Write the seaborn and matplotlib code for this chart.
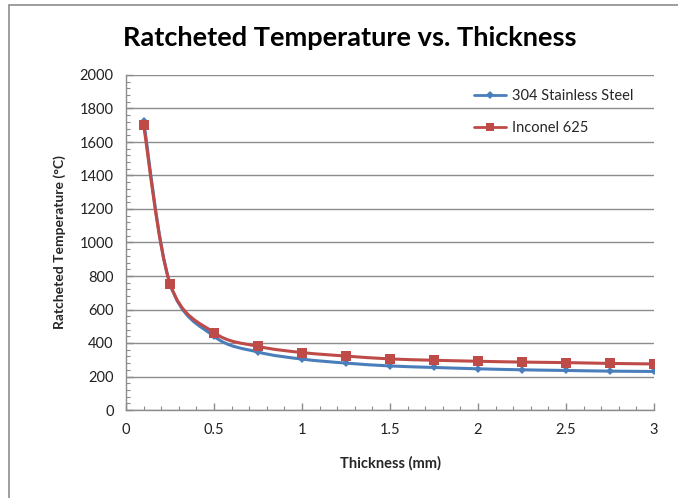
import matplotlib
matplotlib.use("Agg")
import matplotlib.pyplot as plt
import numpy as np
import pandas as pd
import seaborn as sns
from matplotlib.path import Path
from matplotlib.patches import PathPatch, Rectangle
from matplotlib.ticker import MultipleLocator

# values
thickness = [0.1, 0.25, 0.5, 0.75, 1.0, 1.25, 1.5, 1.75, 2.0, 2.25, 2.5, 2.75, 3.0]
steel_304 = [1725, 755, 440, 346, 304, 280, 263, 254, 246, 240, 236, 232, 230]
inconel_625 = [1700, 755, 462, 380, 343, 322, 305, 297, 291, 286, 283, 278, 275]
series_names = ["304 Stainless Steel", "Inconel 625"]

blue = "#4A7EBB"
red = "#BE4B48"

df = pd.DataFrame(
    {
        "Thickness": thickness * 2,
        "Temp": steel_304 + inconel_625,
        "Material": [series_names[0]] * len(thickness) + [series_names[1]] * len(thickness),
    }
)


def smooth_path(x, y):
    """Excel-style smoothed line as cubic Bezier segments (Catmull-Rom control points)."""
    x = np.asarray(x, float)
    y = np.asarray(y, float)
    verts = [(x[0], y[0])]
    codes = [Path.MOVETO]
    n = len(x)
    for i in range(n - 1):
        p0 = (x[max(i - 1, 0)], y[max(i - 1, 0)])
        p1 = (x[i], y[i])
        p2 = (x[i + 1], y[i + 1])
        p3 = (x[min(i + 2, n - 1)], y[min(i + 2, n - 1)])
        c1 = (p1[0] + (p2[0] - p0[0]) / 6, p1[1] + (p2[1] - p0[1]) / 6)
        c2 = (p2[0] - (p3[0] - p1[0]) / 6, p2[1] - (p3[1] - p1[1]) / 6)
        verts += [c1, c2, p2]
        codes += [Path.CURVE4] * 3
    return Path(verts, codes)


sns.set_theme(style="white")
plt.rcParams["font.family"] = ["Lato", "DejaVu Sans"]

fig = plt.figure(figsize=(6.78, 4.98), dpi=100)
ax = fig.add_axes([126 / 678, 88 / 498, 528 / 678, 335 / 498])

# outer chart frame (top and left edges visible)
fig.patches.append(
    Rectangle((9 / 678, -0.1), 1.2, 1 - 5 / 498 + 0.1, transform=fig.transFigure,
              fill=False, edgecolor="#8c8c8c", linewidth=1.2)
)

for name, col in zip(series_names, [blue, red]):
    sub = df[df["Material"] == name]
    ax.add_patch(PathPatch(smooth_path(sub["Thickness"], sub["Temp"]), fill=False,
                           edgecolor=col, linewidth=2.2, zorder=3))

sns.lineplot(
    data=df, x="Thickness", y="Temp", hue="Material", style="Material",
    palette=[blue, red], markers=["D", "s"], dashes=False, linewidth=0,
    markersize=5, markeredgewidth=0, ax=ax, legend=False, zorder=4,
)
# bigger squares for Inconel
ax.lines[1].set_markersize(7.5)
ax.lines[0].set_markersize(4.5)

ax.set_xlim(0, 3)
ax.set_ylim(0, 2000)
ax.xaxis.set_major_locator(MultipleLocator(0.5))
ax.xaxis.set_minor_locator(MultipleLocator(0.1))
ax.yaxis.set_major_locator(MultipleLocator(200))
ax.yaxis.set_minor_locator(MultipleLocator(40))
ax.set_xticks([0, 0.5, 1, 1.5, 2, 2.5, 3])
ax.set_xticklabels(["0", "0.5", "1", "1.5", "2", "2.5", "3"])

ax.grid(axis="y", which="major", color="#8c8c8c", linewidth=1.0)
ax.grid(axis="x", visible=False)
ax.set_axisbelow(True)
for s in ["top", "right"]:
    ax.spines[s].set_visible(False)
for s in ["left", "bottom"]:
    ax.spines[s].set_color("#8c8c8c")
    ax.spines[s].set_linewidth(1.0)

ax.tick_params(which="both", direction="in", color="#8c8c8c", labelsize=10.5,
               labelcolor="#222222", bottom=True, left=True)
ax.tick_params(which="major", length=5, width=1, pad=9)
ax.tick_params(which="minor", length=3, width=0.8)

ax.set_xlabel("Thickness (mm)", fontsize=10.5, fontweight="bold", labelpad=14)
ax.set_ylabel("Ratcheted Temperature (°C)", fontsize=10, fontweight="bold", labelpad=10)
fig.text(350 / 678, 1 - 38 / 498, "Ratcheted Temperature vs. Thickness",
         ha="center", va="center", fontsize=19.5, fontweight="bold", color="black")

# legend entries built from the series
handles = [
    plt.Line2D([], [], color=blue, linewidth=2, marker="D", markersize=4, markeredgewidth=0),
    plt.Line2D([], [], color=red, linewidth=2, marker="s", markersize=6, markeredgewidth=0),
]
ax.legend(handles, series_names, loc="upper left", bbox_to_anchor=(0.648, 0.975),
          frameon=False, fontsize=10.5, handlelength=2.2, handletextpad=0.4,
          labelspacing=1.25, borderaxespad=0)

fig.savefig("out.png", dpi=100, facecolor="white")
